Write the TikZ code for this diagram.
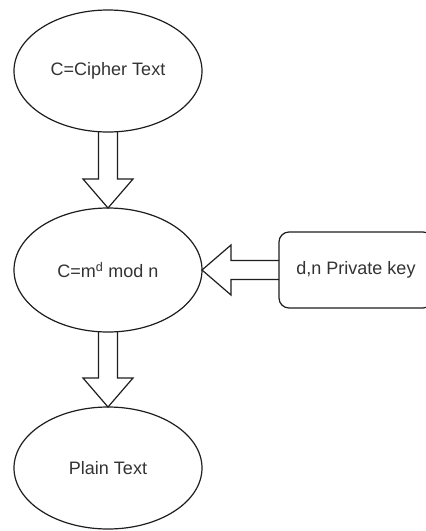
\documentclass[tikz,border=0pt]{standalone}
\usepackage{fontspec}
\setmainfont{Liberation Sans}
\usepackage{xcolor}
\usepackage{tikz}
\usetikzlibrary{shapes.geometric, positioning, calc}

\definecolor{edgegray}{HTML}{1E1E1E}
\definecolor{textgray}{HTML}{333333}

% hollow block arrow from #1 to #2 (shaft 19, head 50 wide, 29 long)
\newcommand{\blockarrow}[2]{%
  \coordinate (hb) at ($(#2)!29pt!(#1)$);
  \draw[line width=1.2pt, edgegray, line join=miter]
    ($(#1)!9.5pt!90:(#2)$) -- ($(hb)!9.5pt!90:(#2)$) -- ($(hb)!25pt!90:(#2)$)
    -- (#2)
    -- ($(hb)!25pt!-90:(#2)$) -- ($(hb)!9.5pt!-90:(#2)$) -- ($(#1)!9.5pt!-90:(#2)$);
}

\tikzset{
  stage/.style={ellipse, draw=edgegray, line width=1.2pt, inner sep=0pt, outer sep=0pt,
    minimum width=188pt, minimum height=122pt, text=textgray,
    font=\fontsize{18}{21}\selectfont},
  keybox/.style={rectangle, rounded corners=10pt, draw=edgegray, line width=1.2pt,
    inner sep=0pt, outer sep=0pt, minimum width=154pt, minimum height=76pt,
    text=textgray, font=\fontsize{18}{21}\selectfont},
}

\begin{document}
\begin{tikzpicture}[x=1pt, y=1pt]
  % canvas, 1 unit = 1px of the layout
  \clip (0,0) rectangle (426,-531);
  \fill[white] (0,0) rectangle (426,-531);

  % decryption chain
  \node[stage] (cipher) at (108,-71) {C=Cipher Text};
  \node[stage, minimum height=124pt] (decrypt) at (108,-270) {C=m\textsuperscript{d} mod n};
  \node[stage] (plain) at (108,-468) {Plain Text};

  % key feeding in from the right, runs off the edge
  \node[keybox] (privkey) at (356,-270) {d,n Private key};

  \blockarrow{cipher.south}{decrypt.north}
  \blockarrow{privkey.west}{decrypt.east}
  \blockarrow{decrypt.south}{plain.north}
\end{tikzpicture}
\end{document}
